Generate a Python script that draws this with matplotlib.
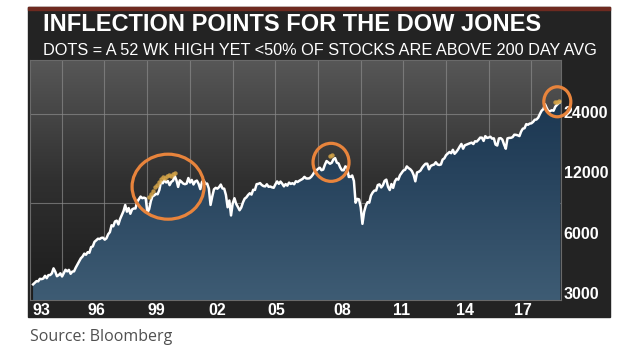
import numpy as np
import matplotlib
matplotlib.use("Agg")
import matplotlib.pyplot as plt
from matplotlib.patches import Rectangle, Ellipse
from matplotlib.colors import LinearSegmentedColormap
from matplotlib.transforms import IdentityTransform

# monthly Dow Jones closes, Jan 1993 .. Oct 2018
dow_1993 = [3310, 3370, 3435, 3428, 3527, 3516, 3540, 3651, 3555, 3681, 3684, 3754]
dow_1994 = [3978, 3832, 3636, 3682, 3758, 3625, 3765, 3913, 3843, 3908, 3739, 3834]
dow_1995 = [3844, 4011, 4158, 4321, 4465, 4556, 4709, 4650, 4789, 4756, 5075, 5117]
dow_1996 = [5395, 5486, 5588, 5569, 5643, 5655, 5529, 5616, 5882, 6029, 6522, 6448]
dow_1997 = [6813, 6878, 6584, 7009, 7331, 7673, 8223, 7622, 7945, 7442, 7823, 7908]
dow_1998 = [7907, 8546, 8800, 9063, 8900, 8952, 8884, 7539, 7843, 8592, 9117, 9181]
dow_1999 = [9359, 9307, 9786, 10789, 10560, 10971, 10655, 10829, 10337, 10730, 10878, 11497]
dow_2000 = [10941, 10128, 10922, 10734, 10522, 10448, 10522, 11215, 10651, 10971, 10415, 10787]
dow_2001 = [10887, 10495, 9879, 10735, 10912, 10502, 10523, 9950, 8236, 9075, 9852, 10022]
dow_2002 = [9920, 10106, 10404, 9946, 9925, 9243, 8019, 8664, 7300, 8397, 8896, 8342]
dow_2003 = [8054, 7750, 7992, 8480, 8850, 8985, 9234, 9416, 9275, 9801, 9782, 10454]
dow_2004 = [10488, 10584, 10358, 10226, 10188, 10435, 10140, 10174, 10080, 10027, 10428, 10783]
dow_2005 = [10490, 10766, 10504, 10193, 10467, 10275, 10641, 10482, 10569, 10440, 10806, 10718]
dow_2006 = [10865, 10993, 11109, 11367, 11168, 11150, 11186, 11381, 11679, 12081, 12222, 12463]
dow_2007 = [12622, 12269, 12354, 13063, 13628, 13409, 13212, 13358, 13896, 14090, 13372, 13265]
dow_2008 = [12650, 12266, 12263, 12820, 12638, 11350, 11378, 11544, 10851, 8450, 8829, 8776]
dow_2009 = [8001, 6630, 7609, 8168, 8500, 8447, 9172, 9496, 9712, 9713, 10345, 10428]
dow_2010 = [10067, 10325, 10857, 11009, 10137, 9774, 10466, 10015, 10788, 11118, 11006, 11578]
dow_2011 = [11892, 12226, 12320, 12811, 12570, 12414, 12143, 11614, 10800, 11955, 12046, 12218]
dow_2012 = [12633, 12952, 13212, 13214, 12393, 12880, 13009, 13091, 13437, 13096, 13026, 13104]
dow_2013 = [13861, 14054, 14579, 14840, 15116, 14910, 15500, 14810, 15130, 15546, 16086, 16577]
dow_2014 = [15699, 16322, 16458, 16581, 16717, 16827, 16563, 17098, 17043, 17391, 17828, 17823]
dow_2015 = [17165, 18133, 17776, 17841, 18011, 17620, 17690, 16460, 16285, 17664, 17720, 17425]
dow_2016 = [16466, 15700, 17685, 17774, 17787, 17930, 18432, 18401, 18308, 18142, 19124, 19763]
dow_2017 = [19864, 20812, 20663, 20941, 21009, 21350, 21891, 21948, 22405, 23377, 24272, 24719]
dow_2018 = [26149, 25029, 24103, 24163, 24416, 24271, 25415, 25965, 26458, 26800]

# dots: 52 wk high yet <50% of stocks above 200 day avg
dots_99_years = [1998.65, 1998.75, 1998.85, 1998.95, 1999.05, 1999.15, 1999.25,
                 1999.35, 1999.45, 1999.55, 1999.65, 1999.75, 1999.85, 1999.95]
dots_99_values = [9000, 9300, 9700, 10100, 10400, 10700, 11100,
                  11300, 11200, 11500, 11600, 11500, 11800, 11900]
dots_07_years = [2007.5, 2007.6]
dots_07_values = [14500, 14600]
dots_18_years = [2018.5, 2018.6, 2018.7]
dots_18_values = [26700, 26900, 27100]

x_tick_pos = [1993.4, 1996.1, 1999.0, 2002.0, 2004.9, 2008.1, 2011.0, 2014.1, 2016.9]
x_tick_labels = ["93", "96", "99", "02", "05", "08", "11", "14", "17"]
y_ticks = [3000, 6000, 12000, 24000]
y_tick_labels = ["3000", "6000", "12000", "24000"]
h_grid = [23400, 8430]
v_grid = 1994.4 + 2.085 * np.arange(12)

W, H = 631, 353


def main():
    dow = (dow_1993 + dow_1994 + dow_1995 + dow_1996 + dow_1997 + dow_1998 + dow_1999
           + dow_2000 + dow_2001 + dow_2002 + dow_2003 + dow_2004 + dow_2005 + dow_2006
           + dow_2007 + dow_2008 + dow_2009 + dow_2010 + dow_2011 + dow_2012 + dow_2013
           + dow_2014 + dow_2015 + dow_2016 + dow_2017 + dow_2018)
    years = 1993 + np.arange(len(dow)) / 12

    fig = plt.figure(figsize=(W / 100, H / 100), dpi=100)
    fig.patch.set_facecolor("white")

    # dark panel + red strip on top
    fig.add_artist(Rectangle((28 / W, 1 - 317 / H), 582 / W, 310 / H,
                             transform=fig.transFigure, color="#232323", zorder=0))
    fig.add_artist(Rectangle((28 / W, 1 - 10 / H), 582 / W, 3 / H,
                             transform=fig.transFigure, color="#6e2a20", zorder=1))

    fig.text(43 / W, 1 - 31 / H, "INFLECTION POINTS FOR THE DOW JONES", color="white",
             fontsize=17, fontweight="bold", family="Liberation Sans", va="baseline")
    fig.text(43 / W, 1 - 55 / H, "DOTS = A 52 WK HIGH YET <50% OF STOCKS ARE ABOVE 200 DAY AVG",
             color="white", fontsize=11.7, family="Liberation Sans", va="baseline")
    fig.text(30 / W, 1 - 337 / H, "Source: Bloomberg", color="#505050", fontsize=11.5,
             family=["Open Sans", "DejaVu Sans"], va="center")

    ax = fig.add_axes([30 / W, 1 - 300 / H, 531 / W, 240 / H])
    ax.set_yscale("log")
    ax.set_xlim(1992.85, 2018.78)
    ax.set_ylim(2767, 43440)

    bg = LinearSegmentedColormap.from_list("bg", ["#1c1c1c", "#303030", "#575757"])
    ax.imshow(np.linspace(0, 1, 256).reshape(-1, 1), cmap=bg, origin="lower",
              extent=[0, 1, 0, 1], transform=ax.transAxes, aspect="auto", zorder=0)

    for g in v_grid:
        ax.axvline(g, color="#8a8a8a", lw=0.8, alpha=0.7, zorder=1)
    for g in h_grid:
        ax.axhline(g, color="#8a8a8a", lw=0.8, alpha=0.7, zorder=1)

    poly = ax.fill_between(years, dow, 2767, color="none", lw=0)
    fill_cmap = LinearSegmentedColormap.from_list("fill", ["#3e5c74", "#28445e", "#15304b"])
    im = ax.imshow(np.linspace(0, 1, 256).reshape(-1, 1), cmap=fill_cmap, origin="lower",
                   extent=[0, 1, 0, 1], transform=ax.transAxes, aspect="auto", zorder=2)
    im.set_clip_path(poly.get_paths()[0], transform=ax.transData)

    ax.plot(years, dow, color="white", lw=1.8, zorder=3)

    dot_sets = [(dots_99_years, dots_99_values), (dots_07_years, dots_07_values),
                (dots_18_years, dots_18_values)]
    for dx, dy in dot_sets:
        ax.scatter(dx, dy, s=10, color="#d6a548", alpha=0.85, lw=0, zorder=4)

    for side in ["top", "right", "left", "bottom"]:
        ax.spines[side].set_color("#6a6a6a")
        ax.spines[side].set_linewidth(0.8)

    ax.yaxis.tick_right()
    ax.set_yticks(y_ticks)
    ax.set_yticklabels(y_tick_labels)
    ax.yaxis.set_minor_locator(matplotlib.ticker.NullLocator())
    ax.set_xticks(x_tick_pos)
    ax.set_xticklabels(x_tick_labels)
    ax.tick_params(length=0, colors="white", labelsize=11.5, pad=2)
    for lab in ax.get_xticklabels() + ax.get_yticklabels():
        lab.set_fontweight("bold")
        lab.set_family("Liberation Sans")

    # orange rings around each group of dots
    ring_sizes = [(72, 65), (36, 38), (27, 30)]
    ring_shift = [(6, -5), (0, -7), (0, 0)]
    for (dx, dy), (rw, rh), (sx, sy) in zip(dot_sets, ring_sizes, ring_shift):
        cx, cy = ax.transData.transform((np.mean(dx), np.exp(np.mean(np.log(dy)))))
        fig.add_artist(Ellipse((cx + sx, cy + sy), rw, rh, transform=IdentityTransform(),
                               fill=False, edgecolor="#e8843c", lw=2.3, zorder=5))

    fig.savefig("out.png", dpi=100)


if __name__ == "__main__":
    main()
